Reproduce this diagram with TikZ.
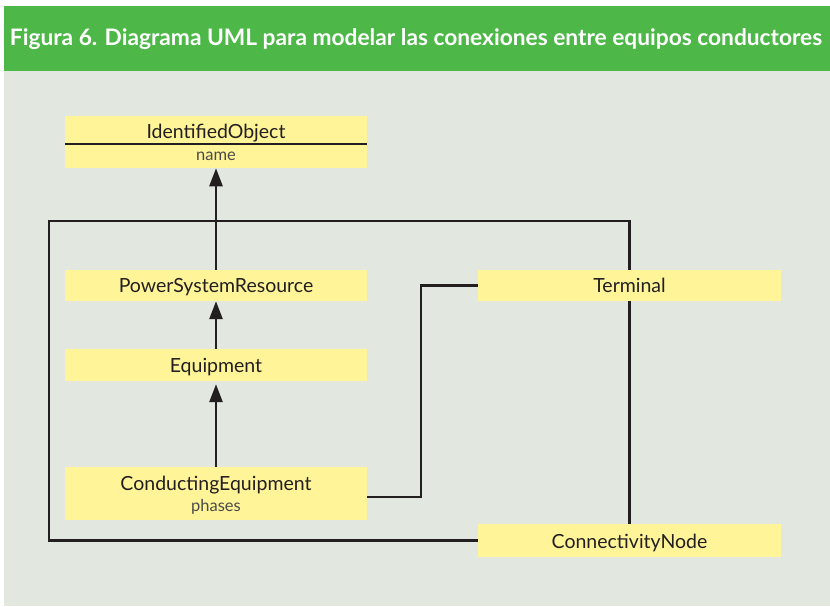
\documentclass[tikz,border=0pt]{standalone}
\usepackage{fontspec}
\setmainfont{Lato}
\usetikzlibrary{arrows.meta}
\definecolor{hdrgreen}{HTML}{4DB848}
\definecolor{bggrey}{HTML}{E2E7E0}
\definecolor{boxyellow}{HTML}{FFF598}
\definecolor{ink}{HTML}{231F20}
\definecolor{softink}{HTML}{4A4A4A}
\pgfdeclarelayer{back}
\pgfdeclarelayer{wires}
\pgfsetlayers{back,wires,main}
\tikzset{
  classbox/.style={fill=boxyellow, draw=none, inner sep=0pt, minimum width=302pt},
  classname/.style={text=ink, font=\fontsize{19.5}{22}\selectfont, inner sep=0pt},
  attrname/.style={text=softink, font=\fontsize{16.5}{19}\selectfont, inner sep=0pt},
  wire/.style={draw=ink, line width=2.6pt},
  inherit/.style={draw=ink, line width=2.6pt, -{Triangle[length=18pt,width=13pt]}},
}
\begin{document}
\begin{tikzpicture}[x=1pt,y=-1pt]
\useasboundingbox (0,0) rectangle (830,606);
\begin{pgfonlayer}{back}
  \fill[white] (0,0) rectangle (830,606);
  \fill[bggrey] (4,71) rectangle (830,606);
  \fill[hdrgreen] (4,6) rectangle (830,71);
\end{pgfonlayer}
\node[text=white, inner sep=0pt, anchor=base] (title) at (416,45)
  {\resizebox{812pt}{!}{\bfseries Figura 6. Diagrama UML para modelar las conexiones entre equipos conductores}};

% class boxes
\node[classbox, minimum height=52.3pt] (IO) at (216,141.9) {};
\node[classname, anchor=base] (IOt) at (216,138) {IdentifiedObject};
\node[attrname, anchor=base] (IOn) at (216,160.5) {name};
\draw[draw=ink, line width=1.3pt] (IO.west |- 0,144) -- (IO.east |- 0,144);

\node[classbox, minimum height=31pt] (PSR) at (216,285.5) {};
\node[classname, anchor=base] (PSRt) at (216,292.5) {PowerSystemResource};

\node[classbox, minimum height=32pt] (EQ) at (216,365) {};
\node[classname, anchor=base] (EQt) at (216,372.5) {Equipment};

\node[classbox, minimum height=53pt] (CE) at (216,493.5) {};
\node[classname, anchor=base] (CEt) at (216,490.5) {ConductingEquipment};
\node[attrname, anchor=base] (CEn) at (216,511) {phases};

\node[classbox, minimum width=303pt, minimum height=31pt] (T) at (629.5,285.5) {};
\node[classname, anchor=base] (Tt) at (629.5,292.5) {Terminal};

\node[classbox, minimum width=303pt, minimum height=33pt] (CN) at (629.5,540.5) {};
\node[classname, anchor=base] (CNt) at (629.5,548) {ConnectivityNode};

\coordinate (topy) at (0,221);
\coordinate (leftx) at (49,0);
\coordinate (midx) at (421,0);

\begin{pgfonlayer}{wires}
  \draw[wire] (CN.north) -- (T.north |- topy) -| (leftx |- CN.west) -- (CN.west);
  \draw[wire] ([yshift=-3.5pt]CE.east) -| (midx |- T.west) -- (T.west);
  \draw[inherit] (PSR.north) -- (IO.south);
  \draw[inherit] (EQ.north) -- (PSR.south);
  \draw[inherit] (CE.north) -- ([yshift=-3pt]EQ.south);
\end{pgfonlayer}
\end{tikzpicture}
\end{document}
